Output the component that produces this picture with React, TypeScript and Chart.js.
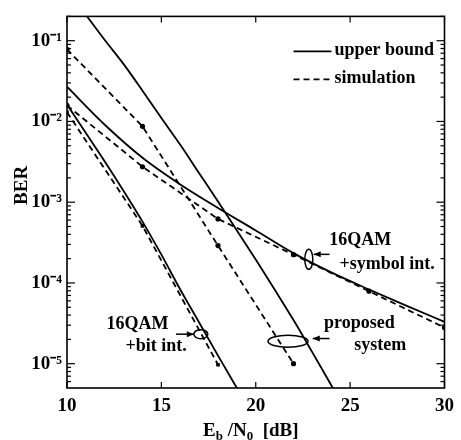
import React, { useEffect, useRef } from 'react';
import { Chart, registerables } from 'chart.js';

Chart.register(...registerables);

// ---- axes ----
const xTickValues = [10, 15, 20, 25, 30];
const yTickValues = [1e-1, 1e-2, 1e-3, 1e-4, 1e-5];
const xRange = [10, 30];
const yRange = [5e-6, 0.2];
const xTitleParts = ['E', 'b', ' /N', '0', '  [dB]'];
const yTitle = 'BER';
const legendLabels = ['upper bound', 'simulation'];

// ---- proposed system ----
const proposedBoundX = [10, 11, 12, 13, 14, 15, 16, 17, 18, 19, 20, 21, 22, 23, 24, 25];
const proposedBoundBER = [0.427, 0.209, 0.102, 0.0513, 0.024, 0.011, 0.00513, 0.00229, 0.00102, 4.47e-4, 1.95e-4, 8.3e-5, 3.47e-5, 1.38e-5, 5.4e-6, 2.0e-6];
const proposedSimX = [10, 14, 18, 22];
const proposedSimBER = [0.078, 8.7e-3, 2.9e-4, 1.0e-5];

// ---- 16QAM + symbol interleaving ----
const symbolBoundX = [10, 12, 14, 16, 18, 20, 22, 24, 26, 28, 30];
const symbolBoundBER = [0.0269, 9.1e-3, 3.55e-3, 1.66e-3, 8.5e-4, 4.47e-4, 2.34e-4, 1.35e-4, 8.3e-5, 5.2e-5, 3.3e-5];
const symbolSimX = [10, 14, 18, 22, 26, 30];
const symbolSimBER = [0.0158, 2.75e-3, 6.2e-4, 2.24e-4, 7.9e-5, 2.8e-5];

// ---- 16QAM + bit interleaving ----
const bitBoundX = [10, 11, 12, 13, 14, 15, 16, 17, 18, 19, 20];
const bitBoundBER = [0.0162, 7.2e-3, 3.2e-3, 1.38e-3, 5.75e-4, 2.24e-4, 8.3e-5, 3.24e-5, 1.26e-5, 5.0e-6, 2.0e-6];
const bitSimX = [10, 14, 18];
const bitSimBER = [0.013, 5.1e-4, 9.7e-6];

// ---- annotation anchors (data coordinates) ----
const symbolLabel = ['16QAM', '+symbol int.'];
const symbolLabelAt = [[25.54, 3.34e-4], [26.96, 1.7e-4]];
const symbolRing = [22.81, 1.96e-4];
const symbolArrow = [[23.91, 2.26e-4], [23.07, 2.26e-4]];

const bitLabel = ['16QAM', '+bit int.'];
const bitLabelAt = [[13.73, 3.08e-5], [14.72, 1.62e-5]];
const bitRing = [17.09, 2.32e-5];
const bitArrow = [[15.77, 2.32e-5], [16.72, 2.32e-5]];

const proposedLabel = ['proposed', 'system'];
const proposedLabelAt = [[25.49, 3.16e-5], [26.59, 1.7e-5]];
const proposedRing = [21.71, 1.9e-5];
const proposedArrow = [[23.91, 2.05e-5], [23.02, 2.05e-5]];

const FONT = "'Liberation Serif', 'Times New Roman', serif";
const SUP: Record<string, string> = { '-': '\u207B', '0': '\u2070', '1': '\u00B9', '2': '\u00B2', '3': '\u00B3', '4': '\u2074', '5': '\u2075', '6': '\u2076', '7': '\u2077', '8': '\u2078', '9': '\u2079' };

function pts(xs: number[], ys: number[]) {
  return xs.map((x, i) => ({ x, y: ys[i] }));
}

function powLabel(v: number) {
  const e = Math.round(Math.log10(v));
  return '10' + String(e).split('').map((c) => SUP[c] || c).join('');
}

const overlayPlugin = {
  id: 'overlay',
  beforeDraw(chart: any) {
    const { ctx, width, height } = chart;
    ctx.save();
    ctx.fillStyle = '#fff';
    ctx.fillRect(0, 0, width, height);
    ctx.restore();
  },
  afterDraw(chart: any) {
    const { ctx, chartArea: a } = chart;
    const xs = chart.scales.x;
    const ys = chart.scales.y;
    const px = (v: number) => xs.getPixelForValue(v);
    const py = (v: number) => ys.getPixelForValue(v);
    const line = (x1: number, y1: number, x2: number, y2: number) => {
      ctx.beginPath();
      ctx.moveTo(x1, y1);
      ctx.lineTo(x2, y2);
      ctx.stroke();
    };
    ctx.save();
    ctx.strokeStyle = '#000';
    ctx.fillStyle = '#000';
    ctx.lineWidth = 1.6;
    ctx.strokeRect(a.left, a.top, a.right - a.left, a.bottom - a.top);

    // inward ticks
    ctx.lineWidth = 1.2;
    for (let e = -7; e <= 0; e++) {
      for (let m = 1; m <= 9; m++) {
        const v = m * Math.pow(10, e);
        if (v < yRange[0] || v > yRange[1]) continue;
        const y = py(v);
        const len = m === 1 ? 8 : 4;
        line(a.left, y, a.left + len, y);
        line(a.right, y, a.right - len, y);
      }
    }
    for (const v of xTickValues) {
      const x = px(v);
      line(x, a.bottom, x, a.bottom - 6);
      line(x, a.top, x, a.top + 6);
    }

    // legend
    ctx.lineWidth = 1.8;
    ctx.setLineDash([]);
    line(a.right - 151, a.top + 35, a.right - 113, a.top + 35);
    ctx.setLineDash([6, 4]);
    line(a.right - 151, a.top + 63, a.right - 113, a.top + 63);
    ctx.setLineDash([]);
    ctx.font = `bold 18px ${FONT}`;
    ctx.textAlign = 'left';
    ctx.textBaseline = 'middle';
    ctx.fillText(legendLabels[0], a.right - 110, a.top + 34);
    ctx.fillText(legendLabels[1], a.right - 110, a.top + 62);

    // annotations
    const drawLabel = (lines: string[], at: number[][]) => {
      ctx.font = `bold 18px ${FONT}`;
      ctx.textAlign = 'center';
      ctx.textBaseline = 'middle';
      lines.forEach((t, i) => ctx.fillText(t, px(at[i][0]), py(at[i][1])));
    };
    const drawRing = (c: number[], rx: number, ry: number) => {
      ctx.lineWidth = 1.5;
      ctx.beginPath();
      ctx.ellipse(px(c[0]), py(c[1]), rx, ry, 0, 0, Math.PI * 2);
      ctx.stroke();
    };
    const drawArrow = (ar: number[][]) => {
      const x1 = px(ar[0][0]), y1 = py(ar[0][1]);
      const x2 = px(ar[1][0]), y2 = py(ar[1][1]);
      ctx.lineWidth = 1.5;
      line(x1, y1, x2, y2);
      const ang = Math.atan2(y2 - y1, x2 - x1);
      ctx.beginPath();
      ctx.moveTo(x2, y2);
      ctx.lineTo(x2 - 7 * Math.cos(ang) + 3 * Math.sin(ang), y2 - 7 * Math.sin(ang) - 3 * Math.cos(ang));
      ctx.lineTo(x2 - 7 * Math.cos(ang) - 3 * Math.sin(ang), y2 - 7 * Math.sin(ang) + 3 * Math.cos(ang));
      ctx.closePath();
      ctx.fill();
    };
    drawLabel(symbolLabel, symbolLabelAt);
    drawRing(symbolRing, 4, 10);
    drawArrow(symbolArrow);
    drawLabel(bitLabel, bitLabelAt);
    drawRing(bitRing, 7, 4.5);
    drawArrow(bitArrow);
    drawLabel(proposedLabel, proposedLabelAt);
    drawRing(proposedRing, 20, 6);
    drawArrow(proposedArrow);

    // y title
    ctx.save();
    ctx.translate(a.left - 45, a.top + 169);
    ctx.rotate(-Math.PI / 2);
    ctx.font = `bold 19px ${FONT}`;
    ctx.textAlign = 'center';
    ctx.textBaseline = 'middle';
    ctx.fillText(yTitle, 0, 0);
    ctx.restore();

    // x title with subscripts
    const big = `bold 19px ${FONT}`;
    const small = `bold 13px ${FONT}`;
    let cx = a.left + 136;
    const base = a.bottom + 48;
    ctx.textAlign = 'left';
    ctx.textBaseline = 'alphabetic';
    xTitleParts.forEach((t, i) => {
      const sub = i === 1 || i === 3;
      ctx.font = sub ? small : big;
      ctx.fillText(t, cx, sub ? base + 4 : base);
      cx += ctx.measureText(t).width;
    });
    ctx.restore();
  },
};

export default function App() {
  const ref = useRef<HTMLCanvasElement | null>(null);
  useEffect(() => {
    if (!ref.current) return;
    const solid = (data: any[]) => ({
      data,
      borderColor: '#000',
      borderWidth: 1.8,
      pointRadius: 0,
      cubicInterpolationMode: 'monotone' as const,
      fill: false,
    });
    const dashed = (data: any[], style: string) => ({
      data,
      borderColor: '#000',
      borderWidth: 1.8,
      borderDash: [6, 4],
      pointRadius: 2.6,
      pointStyle: style,
      pointBackgroundColor: '#000',
      pointBorderColor: '#000',
      pointBorderWidth: 0,
      tension: 0,
      fill: false,
    });
    const tickFont = { family: FONT, size: 19, weight: 'bold' as const };
    const chart = new Chart(ref.current, {
      type: 'line',
      data: {
        datasets: [
          { label: 'proposed system (upper bound)', ...solid(pts(proposedBoundX, proposedBoundBER)) },
          { label: 'proposed system (simulation)', ...dashed(pts(proposedSimX, proposedSimBER), 'circle') },
          { label: '16QAM +symbol int. (upper bound)', ...solid(pts(symbolBoundX, symbolBoundBER)) },
          { label: '16QAM +symbol int. (simulation)', ...dashed(pts(symbolSimX, symbolSimBER), 'circle') },
          { label: '16QAM +bit int. (upper bound)', ...solid(pts(bitBoundX, bitBoundBER)) },
          { label: '16QAM +bit int. (simulation)', ...dashed(pts(bitSimX, bitSimBER), 'rect') },
        ],
      },
      options: {
        animation: false,
        responsive: false,
        layout: { padding: { left: 0, right: 13, top: 11, bottom: 0 } },
        plugins: { legend: { display: false }, tooltip: { enabled: false } },
        scales: {
          x: {
            type: 'linear',
            min: xRange[0],
            max: xRange[1],
            afterBuildTicks: (s: any) => {
              s.ticks = xTickValues.map((v) => ({ value: v }));
            },
            afterFit: (s: any) => {
              s.height = 52;
            },
            grid: { display: false, drawTicks: false },
            border: { display: false },
            ticks: { color: '#000', font: tickFont, padding: 7, maxRotation: 0, autoSkip: false },
          },
          y: {
            type: 'logarithmic',
            min: yRange[0],
            max: yRange[1],
            afterBuildTicks: (s: any) => {
              s.ticks = yTickValues.map((v) => ({ value: v }));
            },
            afterFit: (s: any) => {
              s.width = 67;
            },
            grid: { display: false, drawTicks: false },
            border: { display: false },
            ticks: {
              color: '#000',
              font: tickFont,
              padding: 5,
              autoSkip: false,
              callback: (v: any) => powLabel(Number(v)),
            },
          },
        },
      },
      plugins: [overlayPlugin],
    });
    return () => chart.destroy();
  }, []);
  return (
    <div style={{ position: 'fixed', left: 0, top: 0, width: 461, height: 440 }}>
      <canvas ref={ref} width={461} height={440} style={{ display: 'block' }} />
    </div>
  );
}
